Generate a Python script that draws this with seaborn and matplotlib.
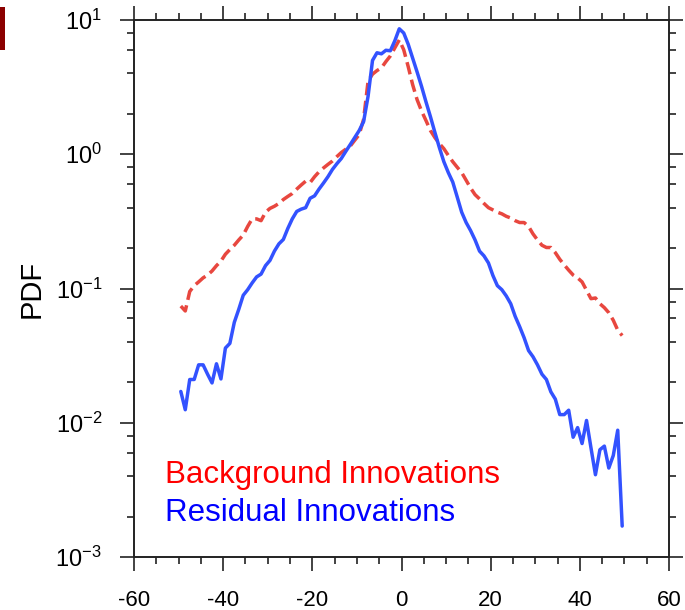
import numpy as np
import pandas as pd
import matplotlib
matplotlib.use("Agg")
import matplotlib.pyplot as plt
from matplotlib.ticker import MultipleLocator, LogLocator, NullFormatter
from matplotlib.patches import Rectangle
import seaborn as sns

# Innovation bins (1-unit wide, centred on half integers)
bin_centers = np.arange(-49.5, 50.0, 1.0)

background_pdf = [
    0.074, 0.068, 0.095, 0.105, 0.112, 0.120, 0.126, 0.135, 0.148, 0.160,
    0.180, 0.195, 0.210, 0.230, 0.250, 0.290, 0.330, 0.330, 0.320, 0.370,
    0.395, 0.410, 0.430, 0.460, 0.485, 0.510, 0.550, 0.590, 0.630, 0.615,
    0.680, 0.740, 0.790, 0.840, 0.890, 0.960, 1.030, 1.090, 1.150, 1.270,
    1.400, 1.820, 3.500, 3.950, 4.200, 4.400, 4.900, 5.400, 6.200, 7.100,
    6.000, 4.500, 3.300, 2.550, 2.100, 1.780, 1.500, 1.330, 1.200, 1.100,
    0.980, 0.880, 0.800, 0.730, 0.640, 0.560, 0.500, 0.465, 0.430, 0.400,
    0.385, 0.370, 0.360, 0.345, 0.335, 0.320, 0.310, 0.310, 0.290, 0.255,
    0.230, 0.210, 0.202, 0.202, 0.185, 0.165, 0.150, 0.137, 0.126, 0.120,
    0.112, 0.097, 0.084, 0.085, 0.077, 0.072, 0.066, 0.058, 0.049, 0.0446,
]

residual_pdf = [
    0.0171, 0.0125, 0.021, 0.021, 0.027, 0.027, 0.023, 0.0198, 0.0275, 0.0212,
    0.036, 0.039, 0.056, 0.070, 0.089, 0.098, 0.110, 0.122, 0.128, 0.148,
    0.162, 0.190, 0.215, 0.232, 0.280, 0.330, 0.375, 0.390, 0.400, 0.470,
    0.490, 0.550, 0.610, 0.680, 0.770, 0.850, 0.930, 1.050, 1.180, 1.330,
    1.500, 1.750, 2.700, 5.000, 5.700, 5.600, 5.950, 5.900, 7.000, 8.600,
    8.000, 6.600, 5.200, 4.100, 3.200, 2.450, 1.900, 1.450, 1.120, 0.880,
    0.730, 0.620, 0.480, 0.370, 0.310, 0.270, 0.230, 0.190, 0.175, 0.155,
    0.125, 0.105, 0.098, 0.088, 0.077, 0.062, 0.052, 0.043, 0.0345, 0.031,
    0.027, 0.023, 0.021, 0.017, 0.015, 0.0115, 0.0115, 0.0124, 0.0078, 0.0092,
    0.0070, 0.0104, 0.0065, 0.0041, 0.0063, 0.0067, 0.0046, 0.0057, 0.0088, 0.0017,
]

series_labels = ["Background Innovations", "Residual Innovations"]
line_colors = ["#e8473f", "#3352ff"]
text_colors = ["#ff0000", "#0000ff"]

x_ticks = [-60, -40, -20, 0, 20, 40, 60]

sns.set_style("ticks")
plt.rcParams["font.family"] = ["Liberation Sans", "DejaVu Sans"]
plt.rcParams["mathtext.fontset"] = "custom"
plt.rcParams["mathtext.rm"] = "Liberation Sans"
plt.rcParams["mathtext.it"] = "Liberation Sans:italic"
plt.rcParams["axes.unicode_minus"] = False

df = pd.DataFrame({
    "x": np.concatenate([bin_centers, bin_centers]),
    "pdf": np.concatenate([background_pdf, residual_pdf]),
    "kind": [series_labels[0]] * len(bin_centers) + [series_labels[1]] * len(bin_centers),
})

fig = plt.figure(figsize=(6.85, 6.10), dpi=100)
ax = fig.add_axes([134 / 685, 1 - 557 / 610, 535 / 685, 537 / 610])

sns.lineplot(
    data=df, x="x", y="pdf", hue="kind", style="kind",
    palette=dict(zip(series_labels, line_colors)),
    dashes={series_labels[0]: (3.6, 1.6), series_labels[1]: ""},
    linewidth=2.5, legend=False, ax=ax,
)

ax.set_yscale("log")
ax.set_xlim(-60, 60)
ax.set_ylim(1e-3, 1e1)
ax.set_xticks(x_ticks)
ax.xaxis.set_minor_locator(MultipleLocator(5))
ax.yaxis.set_major_locator(LogLocator(base=10))
ax.yaxis.set_minor_locator(LogLocator(base=10, subs=(2, 4, 6, 8)))
ax.yaxis.set_minor_formatter(NullFormatter())
ax.set_xlabel("")
ax.set_ylabel("PDF", fontsize=21, color="black")
ax.yaxis.set_label_coords(-0.165, 0.5)

for side in ["left", "right", "top", "bottom"]:
    ax.spines[side].set_visible(True)
    ax.spines[side].set_linewidth(1.4)
    ax.spines[side].set_color("#222222")

ax.tick_params(which="both", direction="out", top=True, right=True,
               color="#222222", width=1.2, labelcolor="black")
ax.tick_params(which="major", length=10)
ax.tick_params(which="minor", length=5)
ax.tick_params(axis="x", which="major", labelsize=16, pad=14)
ax.tick_params(axis="y", which="major", labelsize=17, pad=13)

# Series labels drawn as coloured text inside the plot
ax.text(0.058, 0.138, series_labels[0], color=text_colors[0], fontsize=22.5,
        transform=ax.transAxes, va="baseline", ha="left")
ax.text(0.058, 0.067, series_labels[1], color=text_colors[1], fontsize=22.5,
        transform=ax.transAxes, va="baseline", ha="left")

# Small dark-red bar at the upper-left corner
fig.add_artist(Rectangle((0, 1 - 50 / 610), 5 / 685, 43 / 610,
                         transform=fig.transFigure, color="#8b0000", lw=0))

fig.savefig("out.png", dpi=100)
